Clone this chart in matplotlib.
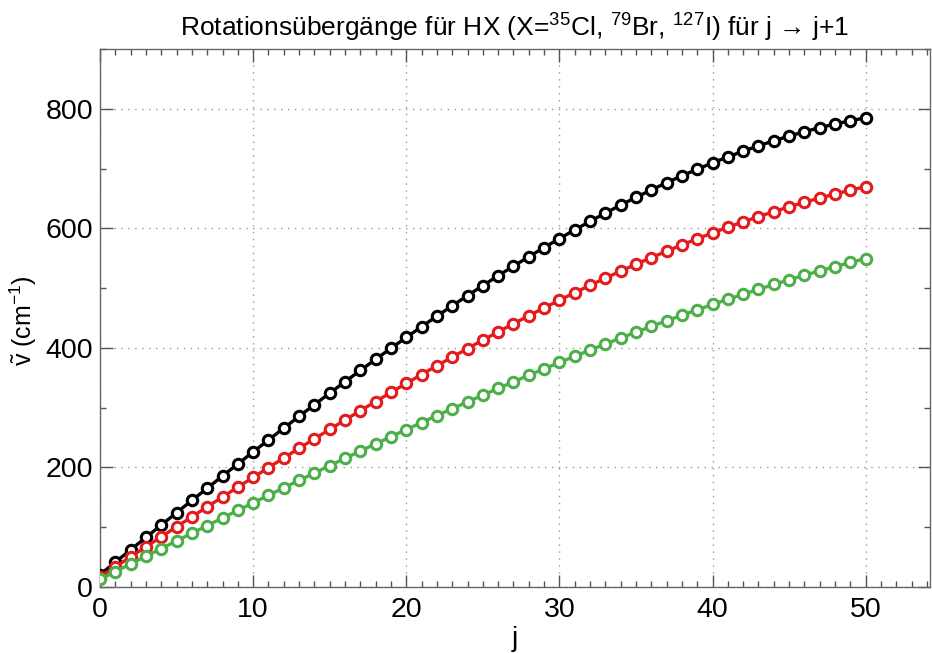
import numpy as np
import matplotlib
matplotlib.use("Agg")
import matplotlib.pyplot as plt
from matplotlib.ticker import MultipleLocator

plt.rcParams["font.family"] = ["Liberation Sans", "DejaVu Sans"]
plt.rcParams["mathtext.fontset"] = "custom"
plt.rcParams["mathtext.rm"] = "Liberation Sans"
plt.rcParams["mathtext.it"] = "Liberation Sans:italic"

# ─── Data ─────────────────────────────────────────────────────────────────────
j = list(range(51))

nu_hcl = [20.8, 41.6, 62.3, 83.1, 103.7, 124.4, 144.9, 165.3, 185.7, 205.9,
          226.0, 246.0, 265.8, 285.5, 305.0, 324.3, 343.4, 362.3, 380.9, 399.4,
          417.5, 435.5, 453.1, 470.4, 487.5, 504.2, 520.7, 536.7, 552.5, 567.8,
          582.8, 597.4, 611.6, 625.5, 638.8, 651.8, 664.2, 676.3, 687.8, 698.9,
          709.4, 719.5, 729.0, 738.0, 746.5, 754.3, 761.6, 768.4, 774.5, 780.0,
          784.9]

nu_hbr = [16.9, 33.7, 50.5, 67.3, 84.1, 100.8, 117.5, 134.1, 150.6, 167.1,
          183.4, 199.7, 215.9, 232.0, 247.9, 263.7, 279.4, 295.0, 310.3, 325.6,
          340.6, 355.5, 370.2, 384.6, 398.9, 413.0, 426.8, 440.4, 453.8, 466.9,
          479.8, 492.3, 504.7, 516.7, 528.4, 539.9, 551.0, 561.8, 572.3, 582.5,
          592.3, 601.8, 610.9, 619.6, 627.9, 635.9, 643.5, 650.7, 657.4, 663.8,
          669.7]

nu_hi = [12.9, 25.8, 38.7, 51.5, 64.4, 77.2, 90.0, 102.8, 115.5, 128.2,
         140.8, 153.4, 165.9, 178.4, 190.7, 203.1, 215.3, 227.4, 239.5, 251.5,
         263.3, 275.1, 286.8, 298.3, 309.7, 321.0, 332.2, 343.3, 354.2, 364.9,
         375.6, 386.0, 396.3, 406.5, 416.5, 426.3, 435.9, 445.4, 454.6, 463.7,
         472.6, 481.3, 489.7, 498.0, 506.1, 513.9, 521.5, 528.8, 536.0, 542.9,
         549.5]

SERIES = [(nu_hcl, "black"), (nu_hbr, "#e41a1c"), (nu_hi, "#4daf4a")]

# ─── Plot ─────────────────────────────────────────────────────────────────────
fig = plt.figure(figsize=(9.32, 6.53), dpi=100)
ax = fig.add_axes([0.1073, 0.101, 0.8905, 0.824])

for y, col in SERIES:
    ax.plot(j, y, color=col, lw=2.4, marker="o", ms=7.5, mfc="white",
            mec=col, mew=2.2, zorder=3)

ax.set_xlim(0, 54.2)
ax.set_ylim(0, 900)
ax.xaxis.set_major_locator(MultipleLocator(10))
ax.xaxis.set_minor_locator(MultipleLocator(1))
ax.yaxis.set_major_locator(MultipleLocator(200))
ax.yaxis.set_minor_locator(MultipleLocator(100))
ax.tick_params(which="both", direction="in", top=True, right=True,
               color="#555555", labelsize=20.5)
ax.tick_params(axis="x", pad=7)
ax.tick_params(axis="y", pad=5)
ax.tick_params(which="major", length=9, width=1)
ax.tick_params(which="minor", length=4.5, width=1)
for s in ax.spines.values():
    s.set_color("#666666")
    s.set_linewidth(1)
ax.grid(which="major", linestyle=(0, (1, 4)), color="#999999", lw=1, zorder=0)

ax.set_title(r"Rotationsübergänge für HX (X=$^{35}$Cl, $^{79}$Br, $^{127}$I) für j → j+1",
             fontsize=19, pad=9)
ax.set_xlabel("j", fontsize=20, labelpad=2)
ax.set_ylabel(r"$\tilde{\mathrm{v}}$ (cm$^{-1}$)", fontsize=18)
ax.yaxis.set_label_coords(-0.074, 0.496)

fig.savefig("out.png", dpi=100)
